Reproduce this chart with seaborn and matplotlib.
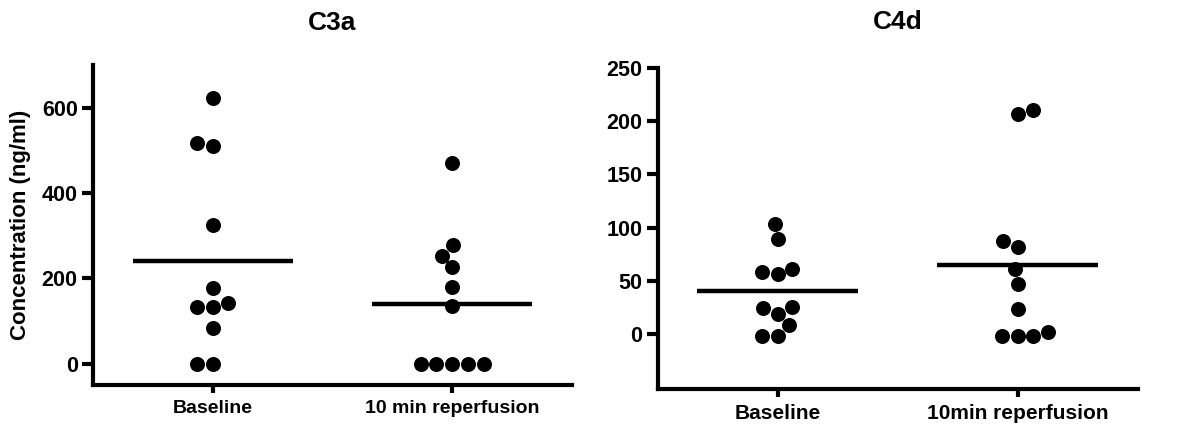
import pandas as pd
import seaborn as sns
import matplotlib.pyplot as plt

# Datos (ng/ml)
grupos_c3a = ["Baseline", "10 min reperfusion"]
c3a_baseline = [623, 518, 510, 324, 178, 142, 133, 133, 84, 0, 0]
c3a_reperf = [470, 279, 253, 226, 180, 136, 0, 0, 0, 0, 0]

grupos_c4d = ["Baseline", "10min reperfusion"]
c4d_baseline = [103, 89, 61, 56, 58, 24, 19, 25, 8, -2, -2]
c4d_reperf = [211, 207, 87, 82, 61, 47, 23, -2, -2, -2, 2]

yticks_c3a = [0, 200, 400, 600]
yticks_c4d = [0, 50, 100, 150, 200, 250]


def hacer_df(grupos, a, b):
    return pd.DataFrame({
        "grupo": [grupos[0]] * len(a) + [grupos[1]] * len(b),
        "valor": a + b,
    })


def panel(ax, df, grupos, titulo, yticks, ylim, pad_titulo, fs_x):
    sns.swarmplot(data=df, x="grupo", y="valor", order=grupos, ax=ax,
                  color="black", size=10.8, linewidth=0)
    # Linea de la media de cada grupo
    medias = df.groupby("grupo")["valor"].mean()
    for i, g in enumerate(grupos):
        ax.hlines(medias[g], i - 0.335, i + 0.335, color="black", lw=3.2, zorder=3)

    ax.set_xlim(-0.5, 1.5)
    ax.set_ylim(*ylim)
    ax.set_yticks(yticks)
    ax.set_xlabel("")
    ax.set_ylabel("")
    ax.set_title(titulo, fontsize=19, fontweight="bold", pad=pad_titulo)
    sns.despine(ax=ax)
    for s in ["left", "bottom"]:
        ax.spines[s].set_linewidth(3)
    ax.tick_params(axis="y", length=8, width=3, labelsize=15.5, pad=3)
    ax.tick_params(axis="x", length=6, width=3, labelsize=fs_x, pad=5)
    for lab in ax.get_xticklabels() + ax.get_yticklabels():
        lab.set_fontweight("bold")


def main():
    sns.set_theme(style="ticks")
    plt.rcParams["font.family"] = ["Liberation Sans", "DejaVu Sans"]
    for k in ["text.color", "axes.labelcolor", "xtick.color", "ytick.color", "axes.edgecolor"]:
        plt.rcParams[k] = "black"

    fig = plt.figure(figsize=(12, 4.38), dpi=100)
    ax1 = fig.add_axes([0.0775, 0.121, 0.399, 0.7306])
    ax2 = fig.add_axes([0.548, 0.112, 0.400, 0.732])

    panel(ax1, hacer_df(grupos_c3a, c3a_baseline, c3a_reperf), grupos_c3a,
          "C3a", yticks_c3a, (-50, 700), 25, 14)
    panel(ax2, hacer_df(grupos_c4d, c4d_baseline, c4d_reperf), grupos_c4d,
          "C4d", yticks_c4d, (-52, 250), 28, 15)

    ax1.set_ylabel("Concentration (ng/ml)", fontsize=16, fontweight="bold", labelpad=8)

    fig.savefig("out.png", dpi=100)
    plt.close(fig)


if __name__ == "__main__":
    main()
